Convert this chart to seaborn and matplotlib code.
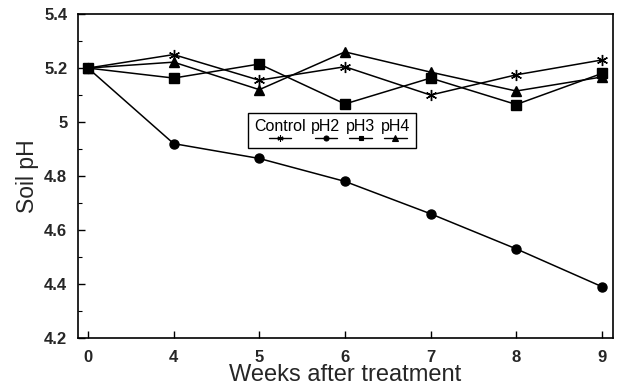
import matplotlib
matplotlib.use("Agg")
import matplotlib.pyplot as plt
import seaborn as sns
import numpy as np
import pandas as pd
from matplotlib.ticker import MultipleLocator, FixedLocator
from matplotlib.offsetbox import (TextArea, DrawingArea, VPacker, HPacker,
                                  AnchoredOffsetbox)
from matplotlib.lines import Line2D

weeks = ["0", "4", "5", "6", "7", "8", "9"]
control = [5.20, 5.25, 5.155, 5.205, 5.10, 5.175, 5.23]
ph2 = [5.20, 4.92, 4.865, 4.78, 4.66, 4.53, 4.39]
ph3 = [5.20, 5.163, 5.215, 5.067, 5.163, 5.065, 5.18]
ph4 = [5.20, 5.222, 5.12, 5.26, 5.185, 5.115, 5.167]
series_names = ["Control", "pH2", "pH3", "pH4"]
y_ticks = [4.2, 4.4, 4.6, 4.8, 5.0, 5.2, 5.4]
y_tick_labels = ["4.2", "4.4", "4.6", "4.8", "5", "5.2", "5.4"]

sns.set_theme(style="ticks")
plt.rcParams["font.family"] = ["Liberation Sans", "DejaVu Sans"]

rows = []
for name, vals in zip(series_names, [control, ph2, ph3, ph4]):
    for i, (w, v) in enumerate(zip(weeks, vals)):
        rows.append({"series": name, "pos": i, "week": w, "pH": v})
df = pd.DataFrame(rows)

markers = {"Control": (6, 2, 0), "pH2": "o", "pH3": "s", "pH4": "^"}
sizes = {"Control": 8, "pH2": 6.5, "pH3": 6.5, "pH4": 7}

fig, ax = plt.subplots(figsize=(6.17, 3.92), dpi=100)
fig.subplots_adjust(left=0.126, right=0.9935, top=0.964, bottom=0.138)

for name in series_names:
    sub = df[df["series"] == name]
    sns.lineplot(data=sub, x="pos", y="pH", ax=ax, color="black", lw=1.1,
                 marker=markers[name], markersize=sizes[name],
                 markeredgecolor="black", markerfacecolor="black",
                 markeredgewidth=1.0, legend=False)

ax.set_xlim(-0.12, 6.13)
ax.set_ylim(4.2, 5.4)
ax.set_xticks(range(len(weeks)))
ax.set_xticklabels(weeks)
ax.yaxis.set_major_locator(FixedLocator(y_ticks))
ax.set_yticklabels(y_tick_labels)
ax.yaxis.set_minor_locator(MultipleLocator(0.1))
ax.tick_params(axis="both", which="both", direction="in", color="black")
ax.tick_params(axis="both", which="major", length=5, width=1, labelsize=12)
ax.tick_params(axis="x", which="major", pad=8.5)
ax.tick_params(axis="y", which="major", pad=7.5)
ax.tick_params(axis="y", which="minor", length=3, width=0.8)
for lbl in ax.get_xticklabels() + ax.get_yticklabels():
    lbl.set_fontweight("bold")
for sp in ax.spines.values():
    sp.set_visible(True)
    sp.set_color("black")
    sp.set_linewidth(1.2)

ax.set_xlabel("Weeks after treatment", fontsize=17)
ax.xaxis.set_label_coords(0.5, -0.08)
ax.set_ylabel("Soil pH", fontsize=16.5, labelpad=4)

# Legend: label text with its marker sample underneath
cols = []
for name in series_names:
    ta = TextArea(name, textprops=dict(fontsize=11.5, color="black"))
    da = DrawingArea(20, 6, 0, 0)
    da.add_artist(Line2D([2, 18], [3, 3], color="black", lw=1.0))
    da.add_artist(Line2D([10], [3], marker=markers[name], color="black",
                         markersize=sizes[name] * 0.55, markeredgewidth=0.8))
    cols.append(VPacker(children=[ta, da], align="center", pad=0, sep=0))
row = HPacker(children=cols, align="top", pad=0, sep=4)
box = AnchoredOffsetbox(loc="upper left", child=row, pad=0.4, borderpad=0,
                        frameon=True, bbox_to_anchor=(0.318, 0.696),
                        bbox_transform=ax.transAxes)
box.patch.set_edgecolor("black")
box.patch.set_linewidth(1.0)
box.patch.set_boxstyle("square,pad=0")
ax.add_artist(box)

fig.savefig("out.png", dpi=100, facecolor="white")
